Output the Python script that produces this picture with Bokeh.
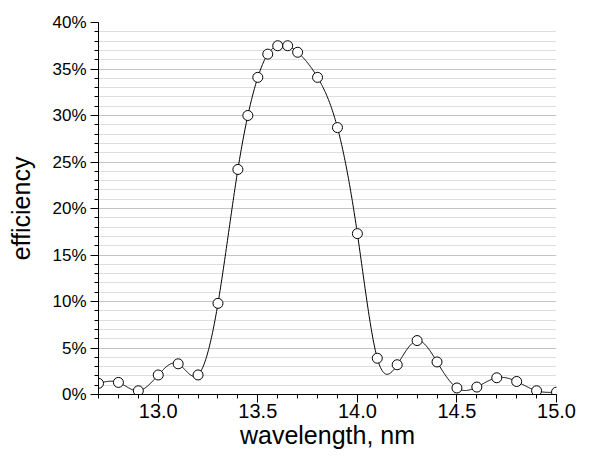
import numpy as np
from bokeh.plotting import figure
from bokeh.models import FixedTicker, CustomJSTickFormatter, Range1d, ColumnDataSource
from bokeh.embed import file_html
from bokeh.resources import INLINE

# ---- data ----
wavelength = [12.7, 12.8, 12.9, 13.0, 13.1, 13.2, 13.3, 13.4, 13.45, 13.5, 13.55,
              13.6, 13.65, 13.7, 13.8, 13.9, 14.0, 14.1, 14.2, 14.3, 14.4, 14.5,
              14.6, 14.7, 14.8, 14.9, 15.0]
efficiency = [1.2, 1.3, 0.4, 2.1, 3.3, 2.1, 9.8, 24.2, 30.0, 34.1, 36.6,
              37.5, 37.5, 36.8, 34.1, 28.7, 17.3, 3.9, 3.2, 5.8, 3.5, 0.7,
              0.8, 1.8, 1.4, 0.4, 0.25]
x_major = [13.0, 13.5, 14.0, 14.5, 15.0]
x_minor = [round(12.7 + 0.1 * i, 1) for i in range(24)]
y_major = [0, 5, 10, 15, 20, 25, 30, 35, 40]
y_minor = list(range(0, 41))


def natural_spline(x, y, n_out=800):
    x = np.asarray(x, float)
    y = np.asarray(y, float)
    n = len(x)
    h = np.diff(x)
    A = np.zeros((n, n))
    r = np.zeros(n)
    A[0, 0] = 1.0
    A[-1, -1] = 1.0
    for i in range(1, n - 1):
        A[i, i - 1] = h[i - 1]
        A[i, i] = 2 * (h[i - 1] + h[i])
        A[i, i + 1] = h[i]
        r[i] = 3 * ((y[i + 1] - y[i]) / h[i] - (y[i] - y[i - 1]) / h[i - 1])
    c = np.linalg.solve(A, r)
    b = (y[1:] - y[:-1]) / h - h * (2 * c[:-1] + c[1:]) / 3
    d = (c[1:] - c[:-1]) / (3 * h)
    xs = np.linspace(x[0], x[-1], n_out)
    idx = np.clip(np.searchsorted(x, xs) - 1, 0, n - 2)
    dx = xs - x[idx]
    ys = y[idx] + b[idx] * dx + c[idx] * dx ** 2 + d[idx] * dx ** 3
    return xs, ys


sx, sy = natural_spline(wavelength, efficiency)

p = figure(width=577, height=454, output_backend="svg", toolbar_location=None,
           x_range=Range1d(12.7, 15.0), y_range=Range1d(0, 40),
           min_border_left=98, min_border_right=21, min_border_top=22, min_border_bottom=60,
           x_axis_label="wavelength, nm", y_axis_label="efficiency")
p.outline_line_color = None
p.background_fill_color = "white"
p.border_fill_color = "white"

# grids
p.xgrid.visible = False
p.ygrid.grid_line_color = "#c4c4c4"
p.ygrid.grid_line_width = 1
p.ygrid.minor_grid_line_color = "#bdbdbd"
p.ygrid.minor_grid_line_dash = "1 1"
p.ygrid.bounds = (0.5, 39.5)

# axes
font = "Liberation Sans"
p.xaxis.ticker = FixedTicker(ticks=x_major, minor_ticks=x_minor)
p.yaxis.ticker = FixedTicker(ticks=y_major, minor_ticks=y_minor)
p.xaxis.formatter = CustomJSTickFormatter(code="return tick.toFixed(1);")
p.yaxis.formatter = CustomJSTickFormatter(code="return tick.toFixed(0) + '%';")
for ax in (p.xaxis, p.yaxis):
    ax.axis_line_color = "black"
    ax.axis_line_width = 1
    ax.major_tick_line_color = "black"
    ax.minor_tick_line_color = "black"
    ax.major_tick_in = 0
    ax.major_tick_out = 8
    ax.minor_tick_in = 0
    ax.minor_tick_out = 4
    ax.major_label_text_font = font
    ax.major_label_text_color = "black"
    ax.axis_label_text_font = font
    ax.axis_label_text_font_style = "normal"
    ax.axis_label_text_color = "black"
    ax.axis_label_text_font_size = "25px"
p.xaxis.major_label_text_font_size = "20px"
p.xaxis.major_label_standoff = 1
p.xaxis.axis_label_standoff = 0
p.yaxis.major_label_text_font_size = "17px"
p.yaxis.major_label_standoff = 4
p.yaxis.axis_label_standoff = 14

# curve and points
p.line(sx, sy, line_color="black", line_width=1)
src = ColumnDataSource(dict(x=wavelength, y=efficiency))
p.scatter("x", "y", source=src, size=10, fill_color="white", line_color="black", line_width=1)

open("out.html", "w").write(file_html(p, INLINE))
